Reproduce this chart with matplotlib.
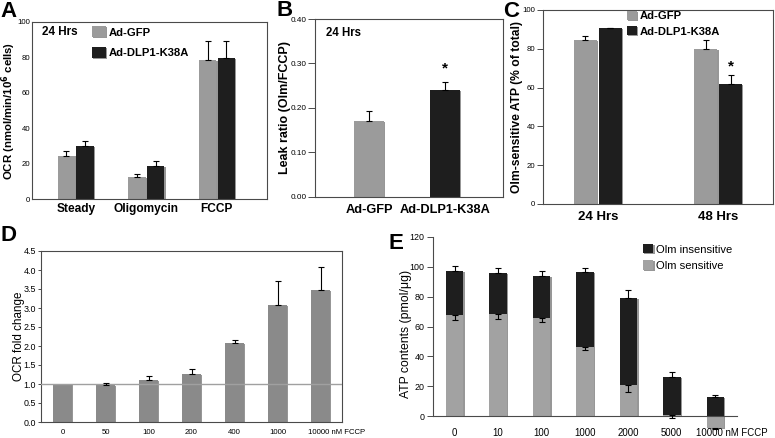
import numpy as np
import matplotlib
matplotlib.use('Agg')
import matplotlib.pyplot as plt
from matplotlib import patheffects as pe
from matplotlib.transforms import ScaledTranslation

plt.rcParams['font.family'] = ['Liberation Sans', 'DejaVu Sans']

# ---------------- data ----------------
# Panel A
a_categories = ['Steady', 'Oligomycin', 'FCCP']
a_gfp = [24.5, 12.5, 78.5]
a_gfp_err = [2.5, 1.5, 10.5]
a_k38a = [30.0, 18.7, 79.5]
a_k38a_err = [3.0, 2.5, 10.0]

# Panel B
b_categories = ['Ad-GFP', 'Ad-DLP1-K38A']
b_values = [0.17, 0.24]
b_err = [0.023, 0.018]

# Panel C
c_categories = ['24 Hrs', '48 Hrs']
c_gfp = [84.5, 80.0]
c_gfp_err = [2.2, 4.5]
c_k38a = [90.5, 62.0]
c_k38a_err = [0.4, 4.3]

# Panel D
d_labels = ['0', '50', '100', '200', '400', '1000', '10000 nM FCCP']
d_values = [1.0, 0.97, 1.1, 1.27, 2.07, 3.08, 3.48]
d_err = [0.0, 0.06, 0.1, 0.13, 0.1, 0.62, 0.6]

# Panel E
e_labels = ['0', '10', '100', '1000', '2000', '5000', '10000 nM FCCP']
e_sensitive = [68, 68.5, 66, 46, 21, 1, -8]
e_sensitive_err = [3.5, 3.5, 3, 2, 5, 2.5, 0.5]
e_insensitive = [29, 27.5, 28, 50.5, 58, 25, 13]
e_total_err = [3.5, 3, 3, 3, 5.5, 3.5, 1]

# ---------------- style ----------------
GRAY = '#9b9b9b'
DGRAY = '#8a8a8a'
EGRAY = '#a2a2a2'
BLACK = '#1e1e1e'
SPINE = '#4a4a4a'
W, H = 775, 438

fig = plt.figure(figsize=(W / 100, H / 100), dpi=100)


def add_ax(l, t, r, b):
    return fig.add_axes([l / W, 1 - b / H, (r - l) / W, (b - t) / H])


def shadow(bars):
    for p in bars:
        p.set_path_effects([pe.SimplePatchShadow(offset=(1.0, -0.6), shadow_rgbFace='0.55', alpha=0.9),
                            pe.Normal()])


def up_err(ax, x, y, e, down=False):
    x = np.asarray(x, float)
    y = np.asarray(y, float)
    e = np.asarray(e, float)
    m = e > 0
    z = np.zeros(m.sum())
    yerr = [e[m], z] if down else [z, e[m]]
    ax.errorbar(x[m], y[m], yerr=yerr, fmt='none', ecolor='black',
                elinewidth=0.8, capsize=2.5, capthick=0.8, zorder=3)


def style_spines(ax, ylen, ypad, box=True):
    for s in ax.spines.values():
        s.set_color(SPINE)
        s.set_linewidth(0.8)
    if not box:
        ax.spines['top'].set_visible(False)
        ax.spines['right'].set_visible(False)
    ax.tick_params(axis='y', direction='out', length=ylen, width=0.7, color=SPINE, pad=ypad)
    ax.tick_params(axis='x', length=0)


def shift_last_label(ax, dx_px):
    lbl = ax.get_xticklabels()[-1]
    lbl.set_horizontalalignment('left')
    lbl.set_transform(lbl.get_transform() + ScaledTranslation(dx_px / 100, 0, fig.dpi_scale_trans))


# ---------------- Panel A ----------------
axA = add_ax(32, 22, 267, 199)
style_spines(axA, 0, 1.2)
xa = np.arange(len(a_categories))
wa = 0.245
b1 = axA.bar(xa - wa / 2 - 0.01, a_gfp, wa, color=GRAY, label='Ad-GFP')
b2 = axA.bar(xa + wa / 2 + 0.01, a_k38a, wa, color=BLACK, label='Ad-DLP1-K38A')
shadow(b1); shadow(b2)
up_err(axA, xa - wa / 2 - 0.01, a_gfp, a_gfp_err)
up_err(axA, xa + wa / 2 + 0.01, a_k38a, a_k38a_err)
axA.set_xlim(-0.62, 2.71)
axA.set_ylim(0, 100)
axA.set_yticks(np.arange(0, 101, 20))
axA.set_xticks(xa)
axA.set_xticklabels(a_categories, fontsize=8.6, fontweight='bold')
axA.tick_params(axis='y', labelsize=5.6)
axA.tick_params(axis='x', pad=3)
axA.set_ylabel('OCR (nmol/min/10$^{\\mathbf{6}}$ cells)', fontsize=8.2, fontweight='bold')
axA.yaxis.set_label_coords(-0.058, 0.5)
axA.text(0.043, 0.944, '24 Hrs', transform=axA.transAxes, fontsize=8.5, fontweight='bold',
         ha='left', va='center')
axA.legend(loc='upper left', bbox_to_anchor=(0.255, 0.975), frameon=False, borderpad=0,
           borderaxespad=0, handlelength=1.25, handleheight=1.1, handletextpad=0.25,
           labelspacing=0.85, prop={'size': 8.1, 'weight': 'bold'})

# ---------------- Panel B ----------------
axB = add_ax(315, 19, 503, 197)
style_spines(axB, 5, 1.0)
xb = np.arange(len(b_categories))
bb = axB.bar(xb, b_values, 0.39, color=[GRAY, BLACK])
shadow(bb)
up_err(axB, xb, b_values, b_err)
axB.set_xlim(-0.71, 1.76)
axB.set_ylim(0, 0.40)
axB.set_yticks(np.arange(0, 0.41, 0.1))
axB.set_yticklabels([f'{v:.2f}' for v in np.arange(0, 0.41, 0.1)])
axB.set_xticks(xb)
axB.set_xticklabels(b_categories, fontsize=9.2, fontweight='bold')
axB.tick_params(axis='y', labelsize=5.9)
axB.tick_params(axis='x', pad=5)
axB.set_ylabel('Leak ratio (Olm/FCCP)', fontsize=9.0, fontweight='bold')
axB.yaxis.set_label_coords(-0.128, 0.5)
axB.text(0.06, 0.921, '24 Hrs', transform=axB.transAxes, fontsize=8.3, fontweight='bold',
         ha='left', va='center')
axB.text(1, 0.288, '*', fontsize=11, fontweight='bold', ha='center', va='center')

# ---------------- Panel C ----------------
axC = add_ax(543, 10, 773, 204)
style_spines(axC, 4, 1.5)
xc = np.arange(len(c_categories))
wc = 0.19
c1 = axC.bar(xc - wc / 2 - 0.008, c_gfp, wc, color=GRAY, label='Ad-GFP')
c2 = axC.bar(xc + wc / 2 + 0.008, c_k38a, wc, color=BLACK, label='Ad-DLP1-K38A')
shadow(c1); shadow(c2)
up_err(axC, xc - wc / 2 - 0.008, c_gfp, c_gfp_err)
up_err(axC, xc + wc / 2 + 0.008, c_k38a, c_k38a_err)
axC.set_xlim(-0.455, 1.455)
axC.set_ylim(0, 100)
axC.set_yticks(np.arange(0, 101, 20))
axC.set_xticks(xc)
axC.set_xticklabels(c_categories, fontsize=9.5, fontweight='bold')
axC.tick_params(axis='y', labelsize=5.6)
axC.tick_params(axis='x', pad=5)
axC.set_ylabel('Olm-sensitive ATP (% of total)', fontsize=8.7, fontweight='bold')
axC.yaxis.set_label_coords(-0.088, 0.5)
axC.text(1 + wc / 2 + 0.008, 71, '*', fontsize=11, fontweight='bold', ha='center', va='center')
axC.legend(loc='upper left', bbox_to_anchor=(0.365, 0.995), frameon=False, borderpad=0,
           borderaxespad=0, handlelength=0.85, handleheight=0.85, handletextpad=0.25,
           labelspacing=0.45, prop={'size': 8.1, 'weight': 'bold'})

# ---------------- Panel D ----------------
axD = add_ax(41, 251, 342, 422)
style_spines(axD, 2.5, 1.0)
xd = np.arange(len(d_labels))
bd = axD.bar(xd, d_values, 0.44, color=DGRAY)
shadow(bd)
up_err(axD, xd, d_values, d_err)
axD.axhline(1.0, color='#a0a0a0', lw=1.0, zorder=2.6)
axD.set_xlim(-0.5, 6.5)
axD.set_ylim(0, 4.5)
axD.set_yticks(np.arange(0, 4.51, 0.5))
axD.set_yticklabels([f'{v:.1f}' for v in np.arange(0, 4.51, 0.5)])
axD.set_xticks(xd)
axD.set_xticklabels(d_labels, fontsize=5.6)
axD.tick_params(axis='y', labelsize=6.4)
axD.tick_params(axis='x', pad=5)
axD.set_ylabel('OCR fold change', fontsize=8.4)
axD.yaxis.set_label_coords(-0.053, 0.5)
shift_last_label(axD, -12)

# ---------------- Panel E ----------------
axE = add_ax(433, 237, 737, 431)
style_spines(axE, 4, 2.0, box=False)
axE.spines['bottom'].set_position(('data', 0))
axE.spines['left'].set_bounds(0, 120)
xe = np.arange(len(e_labels))
sens = np.array(e_sensitive, float)
ins = np.array(e_insensitive, float)
base = np.maximum(sens, 0)
we = 0.4
be1 = axE.bar(xe, ins, we, bottom=base, color=BLACK, label='Olm insensitive')
be2 = axE.bar(xe, sens, we, color=EGRAY, label='Olm sensitive')
shadow(be1); shadow(be2)
up_err(axE, xe, base + ins, e_total_err)
up_err(axE, xe, sens, e_sensitive_err, down=True)
axE.set_xlim(-0.5, 6.5)
axE.set_ylim(-10, 120)
axE.set_yticks(np.arange(0, 121, 20))
axE.set_xticks(xe)
axE.set_xticklabels(e_labels, fontsize=6.9)
axE.tick_params(axis='y', labelsize=6.4, direction='out', length=4, width=0.7, color=SPINE, pad=2.0)
axE.tick_params(axis='x', length=0, pad=8.5)
axE.set_ylabel('ATP contents (pmol/\u03bcg)', fontsize=8.8)
axE.yaxis.set_label_coords(-0.068, 0.5)
shift_last_label(axE, -19)
axE.legend(loc='upper left', bbox_to_anchor=(0.69, 0.965), frameon=False, borderpad=0,
           borderaxespad=0, handlelength=0.95, handleheight=0.95, handletextpad=0.25,
           labelspacing=0.5, prop={'size': 8.1})

# ---------------- panel letters ----------------
for letter, x, y in [('A', 0, 1), ('B', 277, 0), ('C', 503, 1), ('D', 0, 225), ('E', 389, 233)]:
    fig.text(x / W, 1 - y / H, letter, fontsize=16, fontweight='bold', ha='left', va='top')

fig.savefig('out.png', dpi=100)
